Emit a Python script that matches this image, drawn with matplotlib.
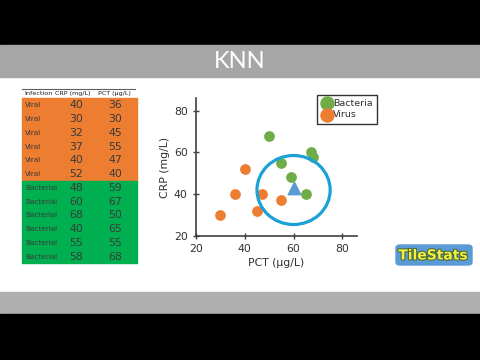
import matplotlib
matplotlib.use("Agg")
import matplotlib.pyplot as plt
from matplotlib.patches import Rectangle, Ellipse, FancyBboxPatch
import matplotlib.patheffects as pe

# data (table + scatter)
infection = ['Viral'] * 6 + ['Bacterial'] * 6
crp = [40, 30, 32, 37, 40, 52, 48, 60, 68, 40, 55, 58]
pct = [36, 30, 45, 55, 47, 40, 59, 67, 50, 65, 55, 68]
new_point = (60, 43)   # (PCT, CRP) of the unknown case
circle_center = (60, 42)

W, H = 480, 360
fig = plt.figure(figsize=(4.8, 3.6), dpi=100)
fig.patch.set_facecolor('white')


def fx(px):
    return px / W


def fy(py):
    return 1 - py / H


# ─── bands ───────────────────────────────────────────────────────────────────
bands = [(0, 45, 'black'), (45, 77, '#A6A6A6'), (292, 314, '#B0B0B0'), (314, 360, 'black')]
for top, bot, col in bands:
    fig.patches.append(Rectangle((0, fy(bot)), 1, (bot - top) / H,
                                 transform=fig.transFigure, color=col, zorder=0))
fig.text(0.5, fy(61), 'KNN', color='white', fontsize=17, ha='center', va='center',
         family='Lato')

# ─── table ───────────────────────────────────────────────────────────────────
row_h = 13.75
tab_top = 98
x_left, x_right = 22, 137
fig.lines.append(plt.Line2D([fx(x_left), fx(135)], [fy(89), fy(89)],
                            transform=fig.transFigure, color='#606060', lw=0.8))
fig.text(fx(24), fy(93.5), 'Infection', fontsize=4.6, ha='left', va='center', color='#202020')
fig.text(fx(73), fy(93.5), 'CRP (mg/L)', fontsize=4.6, ha='center', va='center', color='#202020')
fig.text(fx(114), fy(93.5), 'PCT (µg/L)', fontsize=4.6, ha='center', va='center', color='#202020')

for i, (inf, c, p) in enumerate(zip(infection, crp, pct)):
    y0 = tab_top + i * row_h
    col = '#ED7D31' if inf == 'Viral' else '#00B050'
    fig.patches.append(Rectangle((fx(x_left), fy(y0 + row_h)), fx(x_right - x_left), row_h / H,
                                 transform=fig.transFigure, color=col, zorder=0))
    yc = fy(y0 + row_h / 2 + 0.5)
    fig.text(fx(25), yc, inf, fontsize=5.2, ha='left', va='center', color='#3A3A3A')
    fig.text(fx(76), yc, str(c), fontsize=7.8, ha='center', va='center', color='#3A3A3A')
    fig.text(fx(115), yc, str(p), fontsize=7.8, ha='center', va='center', color='#3A3A3A')

# ─── scatter ─────────────────────────────────────────────────────────────────
ax = fig.add_axes([fx(196), fy(236), fx(357 - 196), (236 - 98) / H])
ax.set_xlim(20, 86)
ax.set_ylim(20, 86)
for s in ['top', 'right']:
    ax.spines[s].set_visible(False)
for s in ['left', 'bottom']:
    ax.spines[s].set_color('#404040')
    ax.spines[s].set_linewidth(1.2)
ax.set_xticks([20, 40, 60, 80])
ax.set_yticks([20, 40, 60, 80])
ax.tick_params(direction='inout', length=5, width=1, colors='#404040', labelsize=7.8,
               labelcolor='#303030')
ax.set_xlabel('PCT (µg/L)', fontsize=7.8, color='#303030', labelpad=3)
ax.set_ylabel('CRP (mg/L)', fontsize=7.8, color='#303030', labelpad=3)

bx = [p for p, inf in zip(pct, infection) if inf == 'Bacterial']
by = [c for c, inf in zip(crp, infection) if inf == 'Bacterial']
vx = [p for p, inf in zip(pct, infection) if inf == 'Viral']
vy = [c for c, inf in zip(crp, infection) if inf == 'Viral']
ax.scatter(bx, by, s=45, color='#70AD47', label='Bacteria', zorder=3)
ax.scatter(vx, vy, s=45, color='#ED7D31', label='Virus', zorder=3)
ax.scatter([new_point[0]], [new_point[1]], marker='^', s=80, color='#5B9BD5', zorder=4)
ax.add_patch(Ellipse(circle_center, 30, 33, fill=False, edgecolor='#1BA1D5', lw=2.3, zorder=5))

leg = fig.legend(loc='upper left', bbox_to_anchor=(fx(312), fy(90)), fontsize=6.8,
                 frameon=True, fancybox=False, edgecolor='black', markerscale=1.4,
                 handletextpad=0.1, borderpad=0.45, labelspacing=0.25, handlelength=1.2)
leg.get_frame().set_linewidth(1)
for t in leg.get_texts():
    t.set_color('#303030')

# ─── logo ────────────────────────────────────────────────────────────────────
fig.patches.append(FancyBboxPatch((fx(396), fy(265)), fx(76), 20 / H,
                                  boxstyle='round,pad=0,rounding_size=0.008',
                                  transform=fig.transFigure, facecolor='#5B9BD5',
                                  edgecolor='#5B9BD5', zorder=1))
fig.text(fx(433), fy(255.5), 'TileStats', fontsize=10, fontweight='bold', color='#F4F040',
         ha='center', va='center', zorder=2,
         path_effects=[pe.withStroke(linewidth=1.5, foreground='#4A6A30')])

fig.savefig('out.png', dpi=100)
